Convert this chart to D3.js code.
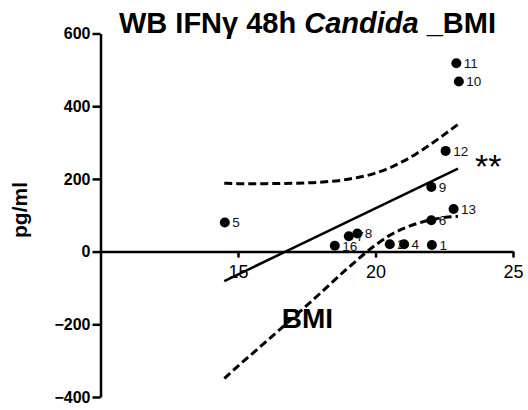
<!DOCTYPE html>
<html>
<head>
<meta charset="utf-8">
<script src="https://cdn.jsdelivr.net/npm/d3@7"></script>
<style>
  html, body { margin: 0; padding: 0; background: #fff; }
  svg { display: block; font-family: "Liberation Sans", Arial, sans-serif; }
</style>
</head>
<body>
<svg id="chart" width="528" height="410"></svg>
<script>
// ---- data ----
const pointIds = ["1", "2", "4", "5", "6", "7", "8", "9", "10", "11", "12", "13", "16"];
const pointBMI = [22.05, 20.52, 21.04, 14.52, 22.03, 19.03, 19.34, 22.03, 23.03, 22.94, 22.55, 22.84, 18.52];
const pointPg  = [18, 20, 20, 80, 86, 42, 50, 178, 468, 518, 277, 117, 16];

const fitX = [14.5, 23.0];
const fitY = [-81, 228];

const bandX     = [14.5, 15, 16, 17, 18, 19, 20, 20.5, 21, 21.5, 22, 22.5, 23.0];
const bandUpper = [188, 187, 187, 188, 191, 199, 216, 230, 248, 270, 295, 322, 350];
const bandLower = [-349, -315, -249, -182, -114, -45, 18, 44, 63, 77, 87, 94, 97];

const xTicks = [15, 20, 25];
const yTicks = [-400, -200, 0, 200, 400, 600];

const titleMain = "WB IFNγ 48h ";
const titleItalic = "Candida";
const titleEnd = " _BMI";
const xTitle = "BMI";
const yTitle = "pg/ml";
const significance = "**";

// ---- scales ----
const svg = d3.select("#chart");
const x = d3.scaleLinear().domain([10, 25]).range([100.5, 513]);
const y = d3.scaleLinear().domain([-400, 600]).range([397, 33.5]);

// ---- axes ----
const yAxis = svg.append("g")
  .attr("transform", `translate(${x(10)},0)`)
  .call(d3.axisLeft(y).tickValues(yTicks).tickSize(8).tickSizeOuter(0).tickPadding(2).tickFormat(d3.format("d")));
yAxis.select(".domain").attr("stroke", "#000").attr("stroke-width", 2.5);
yAxis.selectAll(".tick line").attr("stroke", "#000").attr("stroke-width", 2.5);
yAxis.selectAll(".tick text")
  .attr("fill", "#000")
  .style("font-family", "'Liberation Sans', Arial, sans-serif")
  .style("font-size", "16px").style("font-weight", "bold");

const xAxis = svg.append("g")
  .attr("transform", `translate(0,${y(0)})`)
  .call(d3.axisBottom(x).tickValues(xTicks).tickSize(6).tickSizeOuter(0).tickPadding(8).tickFormat(d3.format("d")));
xAxis.select(".domain").attr("stroke", "#000").attr("stroke-width", 2.5);
xAxis.selectAll(".tick line").attr("stroke", "#000").attr("stroke-width", 2.5);
xAxis.selectAll(".tick text")
  .attr("fill", "#000")
  .style("font-family", "'Liberation Sans', Arial, sans-serif")
  .style("font-size", "18px");

// ---- points ----
const pts = pointIds.map((id, i) => ({ id, bx: pointBMI[i], pg: pointPg[i] }));
svg.append("g").selectAll("circle").data(pts).join("circle")
  .attr("cx", d => x(d.bx)).attr("cy", d => y(d.pg)).attr("r", 5).attr("fill", "#000");
svg.append("g").selectAll("text").data(pts).join("text")
  .attr("x", d => x(d.bx) + 7.5).attr("y", d => y(d.pg))
  .attr("dy", "0.36em")
  .attr("fill", "#111")
  .style("font-size", "13.5px")
  .text(d => d.id);

// ---- regression line and bands ----
const fitPts = fitX.map((v, i) => [v, fitY[i]]);
svg.append("path")
  .attr("d", d3.line().x(d => x(d[0])).y(d => y(d[1]))(fitPts))
  .attr("fill", "none").attr("stroke", "#000").attr("stroke-width", 2.5);

const bandLine = d3.line().x(d => x(d[0])).y(d => y(d[1])).curve(d3.curveMonotoneX);
[bandUpper, bandLower].forEach(arr => {
  svg.append("path")
    .attr("d", bandLine(bandX.map((v, i) => [v, arr[i]])))
    .attr("fill", "none").attr("stroke", "#000").attr("stroke-width", 3)
    .attr("stroke-dasharray", "8,4");
});

// ---- titles ----
const t = svg.append("text")
  .attr("x", 307.5).attr("y", 33)
  .attr("text-anchor", "middle")
  .style("font-size", "29px").style("font-weight", "bold").attr("fill", "#000");
t.append("tspan").text(titleMain);
t.append("tspan").style("font-style", "italic").text(titleItalic);
t.append("tspan").text(titleEnd);

svg.append("text")
  .attr("transform", "translate(27,210) rotate(-90)")
  .attr("text-anchor", "middle")
  .style("font-size", "21px").style("font-weight", "bold").attr("fill", "#000")
  .text(yTitle);

svg.append("text")
  .attr("x", 307.5).attr("y", 328)
  .attr("text-anchor", "middle")
  .style("font-size", "28px").style("font-weight", "bold").attr("fill", "#000")
  .text(xTitle);

svg.append("text")
  .attr("x", 475).attr("y", 178)
  .style("font-size", "34px").attr("fill", "#000")
  .text(significance);
</script>
</body>
</html>
